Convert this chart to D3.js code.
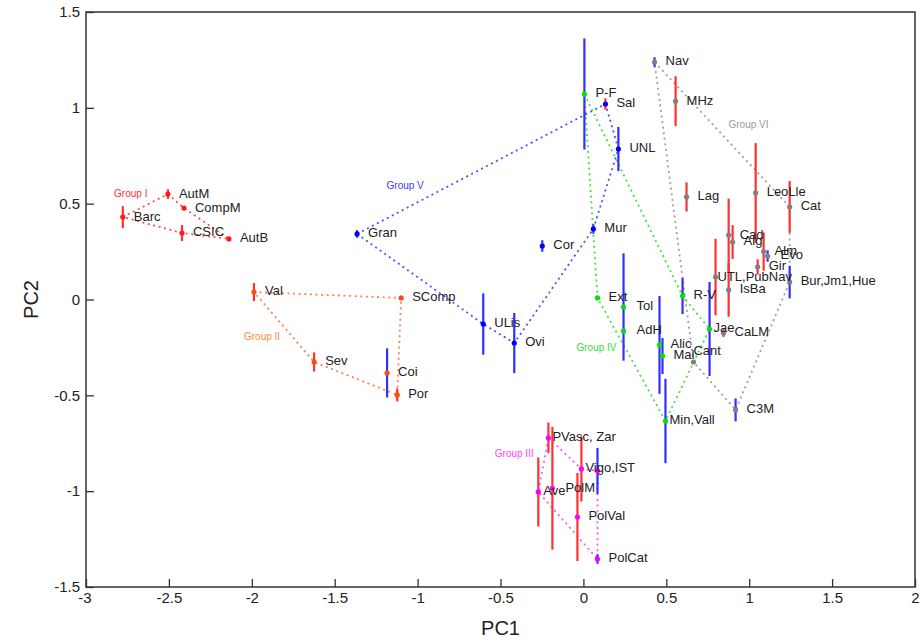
<!DOCTYPE html>
<html>
<head>
<meta charset="utf-8">
<script src="https://cdn.jsdelivr.net/npm/d3@7"></script>
<style>
  body { margin: 0; background: #fff; }
  text { font-family: "Liberation Sans", Arial, Helvetica, sans-serif; }
</style>
</head>
<body>
<div id="chart"></div>
<script>
/** Site data */
var names = ["Barc", "AutM", "CompM", "CSIC", "AutB",
  "Val", "SComp", "Sev", "Coi", "Por",
  "PVasc, Zar", "Vigo,IST", "", "Ave", "PolM", "PolVal", "PolCat",
  "P-F", "Ext", "Tol", "AdH", "Alic", "Mal", "Min,Vall", "R-V", "Jae",
  "Gran", "ULis", "Ovi", "Cor", "Mur", "UNL", "Sal",
  "Nav", "MHz", "Lag", "LeoLle", "Cat", "Cad", "Alg", "Alm", "Evo", "Gir",
  "UTL,PubNav", "IsBa", "Bur,Jm1,Hue", "CaLM", "Cant", "C3M"];
var groupOf = [0, 0, 0, 0, 0,
  1, 1, 1, 1, 1,
  2, 2, 2, 2, 2, 2, 2,
  3, 3, 3, 3, 3, 3, 3, 3, 3,
  4, 4, 4, 4, 4, 4, 4,
  5, 5, 5, 5, 5, 5, 5, 5, 5, 5, 5, 5, 5, 5, 5, 5];
var pc1 = [-2.778, -2.506, -2.409, -2.421, -2.138,
  -1.987, -1.099, -1.624, -1.184, -1.123,
  -0.211, -0.012, 0.085, -0.272, -0.187, -0.036, 0.085,
  0.006, 0.085, 0.242, 0.242, 0.459, 0.477, 0.495, 0.598, 0.761,
  -1.365, -0.604, -0.417, -0.248, 0.060, 0.211, 0.133,
  0.429, 0.556, 0.622, 1.039, 1.244, 0.876, 0.900, 1.087, 1.111, 1.051,
  0.797, 0.876, 1.244, 0.845, 0.664, 0.918];
var pc2 = [0.430, 0.550, 0.477, 0.347, 0.316,
  0.039, 0.008, -0.326, -0.383, -0.498,
  -0.722, -0.884, -0.894, -1.004, -0.985, -1.135, -1.354,
  1.072, 0.008, -0.039, -0.164, -0.237, -0.295, -0.634, 0.018, -0.154,
  0.342, -0.128, -0.227, 0.279, 0.368, 0.785, 1.020,
  1.239, 1.035, 0.535, 0.556, 0.483, 0.336, 0.300, 0.250, 0.227, 0.170,
  0.117, 0.050, 0.091, -0.175, -0.326, -0.576];
/** Half-length of each error bar, and its colour code (r = red, b = blue) */
var errHalf = [0.057, 0.025, 0, 0.042, 0,
  0.047, 0, 0.05, 0.128, 0.034,
  0.08, 0.17, 0.12, 0.18, 0.32, 0.23, 0.025,
  0.29, 0, 0.28, 0, 0.255, 0.094, 0.22, 0.094, 0.245,
  0.02, 0.16, 0.157, 0.03, 0.025, 0.115, 0.03,
  0.025, 0.13, 0.076, 0.26, 0.135, 0.19, 0.088, 0.1, 0.03, 0.04,
  0.2, 0.14, 0.085, 0.02, 0, 0.06];
var errKind = ["r", "r", "", "r", "",
  "r", "", "r", "b", "r",
  "r", "r", "b", "r", "r", "r", "b",
  "b", "", "b", "", "b", "b", "b", "b", "b",
  "b", "b", "b", "b", "b", "b", "r",
  "b", "r", "r", "r", "r", "r", "r", "r", "b", "r",
  "r", "r", "b", "r", "", "b"];

/** Groups: names, outline vertices and label anchors (data units) */
var groupNames = ["Group I", "Group II", "Group III", "Group IV", "Group V", "Group VI"];
var groupHulls = [
  ["Barc", "AutM", "CompM", "AutB", "CSIC"],
  ["Val", "SComp", "Por", "Sev"],
  ["PVasc, Zar", "Vigo,IST", "", "PolCat", "Ave"],
  ["P-F", "R-V", "Jae", "Min,Vall", "Ext"],
  ["Gran", "Sal", "UNL", "Mur", "Ovi", "ULis"],
  ["Nav", "Cat", "Bur,Jm1,Hue", "C3M", "Cant"]
];
var groupLabelX = [-2.73, -1.938, -0.417, 0.079, -1.075, 0.996];
var groupLabelY = [0.55, -0.20, -0.806, -0.253, 0.592, 0.91];

var xTicks = [-3, -2.5, -2, -1.5, -1, -0.5, 0, 0.5, 1, 1.5, 2];
var yTicks = [-1.5, -1, -0.5, 0, 0.5, 1, 1.5];

/** Styles */
var pointColor = ["#ff1a1a", "#ff4a10", "#ff00ff", "#00e600", "#0000ff", "#808080"];
var lineColor = ["#ff4d4d", "#ff8050", "#ff55ff", "#44e044", "#5050ff", "#a0a0a0"];
var labelColor = ["#ff3030", "#ff8c3a", "#ff44ff", "#33e033", "#3a3aff", "#9a9a9a"];
var barColor = { r: "#ff3030", b: "#2f2fff" };
/** Label nudges in pixels, default is [11, 0] */
var labelNudge = {
  "UTL,PubNav": [2, 0], "Jae": [4, 0], "Min,Vall": [4, 0], "PVasc, Zar": [4, 0],
  "Vigo,IST": [4, 0], "Ave": [5, 0], "Cant": [0, -10], "PolM": [13, 0],
  "Tol": [13, 0], "AdH": [13, 0], "Evo": [13, 0]
};

var width = 924, height = 642;
var margin = {top: 12, right: 9, bottom: 55, left: 86};
var w = width - margin.left - margin.right;
var h = height - margin.top - margin.bottom;

var svg = d3.select("#chart").append("svg")
  .attr("width", width)
  .attr("height", height);
var g = svg.append("g")
  .attr("transform", "translate(" + margin.left + "," + margin.top + ")");

var x = d3.scaleLinear().domain([-3, 2]).range([0, w]);
var y = d3.scaleLinear().domain([-1.5, 1.5]).range([h, 0]);

var idx = {};
names.forEach(function(n, i) { idx[n] = i; });

/** Axes, ticks pointing inward */
var fmt = function(d) { return String(d); };
var xAxis = g.append("g")
  .attr("transform", "translate(0," + h + ")")
  .call(d3.axisBottom(x).tickValues(xTicks).tickFormat(fmt).tickSizeInner(-8).tickSizeOuter(0).tickPadding(5));
var yAxis = g.append("g")
  .call(d3.axisLeft(y).tickValues(yTicks).tickFormat(fmt).tickSizeInner(-8).tickSizeOuter(0).tickPadding(6));
[xAxis, yAxis].forEach(function(a) {
  a.select(".domain").remove();
  a.selectAll("line").attr("stroke", "#333").attr("stroke-width", 1.3);
  a.selectAll("text").attr("fill", "#222").style("font-size", "15px")
    .style("font-family", "'Liberation Sans', Arial, Helvetica, sans-serif");
});
xAxis.selectAll("text").filter(function(d) { return d === -3; }).attr("dx", "-0.1em");

g.append("rect")
  .attr("width", w).attr("height", h)
  .attr("fill", "none").attr("stroke", "#333").attr("stroke-width", 1.5);

svg.append("text")
  .attr("x", margin.left + x(-0.5)).attr("y", 635)
  .attr("text-anchor", "middle").attr("fill", "#222")
  .style("font-size", "20px").text("PC1");
svg.append("text")
  .attr("transform", "translate(38," + (margin.top + y(0)) + ") rotate(-90)")
  .attr("text-anchor", "middle").attr("fill", "#222")
  .style("font-size", "20px").text("PC2");

/** Dotted group outlines */
var line = d3.line()
  .x(function(n) { return x(pc1[idx[n]]); })
  .y(function(n) { return y(pc2[idx[n]]); })
  .curve(d3.curveLinearClosed);
g.selectAll(".hull")
  .data(groupHulls)
  .enter().append("path")
    .attr("class", "hull")
    .attr("d", function(d) { return line(d); })
    .attr("fill", "none")
    .attr("stroke", function(d, i) { return lineColor[i]; })
    .attr("stroke-width", 1.8)
    .attr("stroke-dasharray", "2,3.6");

g.selectAll(".glabel")
  .data(groupNames)
  .enter().append("text")
    .attr("class", "glabel")
    .attr("x", function(d, i) { return x(groupLabelX[i]); })
    .attr("y", function(d, i) { return y(groupLabelY[i]); })
    .attr("text-anchor", "middle")
    .attr("dominant-baseline", "middle")
    .attr("fill", function(d, i) { return labelColor[i]; })
    .style("font-size", "10px")
    .text(function(d) { return d; });

/** Error bars */
var sites = d3.range(names.length);
g.selectAll(".err")
  .data(sites.filter(function(i) { return errHalf[i] > 0; }))
  .enter().append("line")
    .attr("class", "err")
    .attr("x1", function(i) { return x(pc1[i]); })
    .attr("x2", function(i) { return x(pc1[i]); })
    .attr("y1", function(i) { return y(pc2[i] + errHalf[i]); })
    .attr("y2", function(i) { return y(pc2[i] - errHalf[i]); })
    .attr("stroke", function(i) { return barColor[errKind[i]]; })
    .attr("stroke-width", 2.2);

/** Points */
g.selectAll(".pt")
  .data(sites)
  .enter().append("circle")
    .attr("class", "pt")
    .attr("cx", function(i) { return x(pc1[i]); })
    .attr("cy", function(i) { return y(pc2[i]); })
    .attr("r", 2.6)
    .attr("fill", function(i) { return pointColor[groupOf[i]]; });

/** Site labels */
g.selectAll(".lbl")
  .data(sites.filter(function(i) { return names[i] !== ""; }))
  .enter().append("text")
    .attr("class", "lbl")
    .attr("x", function(i) { var n = labelNudge[names[i]] || [11, 0]; return x(pc1[i]) + n[0]; })
    .attr("y", function(i) { var n = labelNudge[names[i]] || [11, 0]; return y(pc2[i]) + n[1]; })
    .attr("dominant-baseline", "middle")
    .attr("fill", "#222")
    .style("font-size", "13px")
    .text(function(i) { return names[i]; });
</script>
</body>
</html>
